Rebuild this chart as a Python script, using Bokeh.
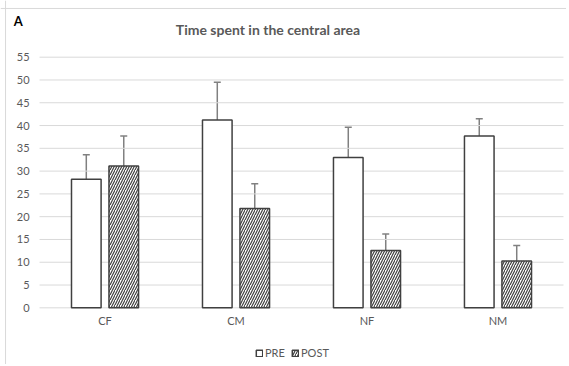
from bokeh.plotting import figure
from bokeh.models import (ColumnDataSource, Range1d, Whisker, TeeHead, Span,
                          Legend, LegendItem, Label, FixedTicker)
from bokeh.embed import file_html
from bokeh.resources import INLINE

categories = ["CF", "CM", "NF", "NM"]
pre = [28.2, 41.2, 33.0, 37.7]
pre_hi = [33.6, 49.5, 39.6, 41.5]
pre_lo = [27.2, 40.3, 32.1, 36.7]
post = [31.1, 21.8, 12.6, 10.3]
post_hi = [37.7, 27.2, 16.2, 13.7]
post_lo = [30.2, 21.0, 11.9, 9.3]
y_ticks = list(range(0, 56, 5))

FONT = "Lato"
GREY = "#595959"
EDGE = "#404040"
ERR = "#808080"
GRID = "#d9d9d9"
OFF = 0.143
W = 0.226

idx = list(range(len(categories)))
src = ColumnDataSource(dict(
    x_pre=[i - OFF for i in idx], x_post=[i + OFF for i in idx],
    pre=pre, pre_hi=pre_hi, pre_lo=pre_lo,
    post=post, post_hi=post_hi, post_lo=post_lo))

p = figure(width=566, height=364,
           x_range=Range1d(-0.798, 3.523), y_range=Range1d(-12.44, 67.44),
           output_backend="svg", toolbar_location=None,
           min_border_left=0, min_border_right=0, min_border_top=0, min_border_bottom=0)
p.outline_line_color = None

# chart border (faint)
p.add_layout(Span(location=-0.7595, dimension="height", line_color=GRID, line_width=1))
p.add_layout(Span(location=65.69, dimension="width", line_color=GRID, line_width=1))

# horizontal gridlines across the category extent only
n = len(categories)
p.segment(x0=[-0.5] * len(y_ticks), x1=[n - 0.5] * len(y_ticks), y0=y_ticks, y1=y_ticks,
          line_color=GRID, line_width=1)

r_pre = p.vbar(x="x_pre", top="pre", width=W, source=src,
               fill_color="white", line_color=EDGE, line_width=1.5)
r_post = p.vbar(x="x_post", top="post", width=W, source=src,
                fill_color="white", line_color=EDGE, line_width=1.5,
                hatch_pattern="right_diagonal_line", hatch_color=EDGE,
                hatch_scale=5, hatch_weight=1.2)

for xf, hi, lo in [("x_pre", "pre_hi", "pre_lo"), ("x_post", "post_hi", "post_lo")]:
    w = Whisker(source=src, base=xf, upper=hi, lower=lo,
                line_color=ERR, line_width=1.5,
                upper_head=TeeHead(size=7, line_color=ERR, line_width=1.5),
                lower_head=TeeHead(size=7, line_color=ERR, line_width=1.5))
    p.add_layout(w)

p.xaxis.ticker = FixedTicker(ticks=idx)
p.xaxis.major_label_overrides = {i: c for i, c in zip(idx, categories)}
p.xaxis.fixed_location = 0
p.yaxis.ticker = FixedTicker(ticks=y_ticks)
p.yaxis.fixed_location = -0.5
for ax in (p.xaxis, p.yaxis):
    ax.axis_line_color = None
    ax.major_tick_line_color = None
    ax.minor_tick_line_color = None
    ax.major_tick_in = 0
    ax.major_tick_out = 0
    ax.major_label_text_font = FONT
    ax.major_label_text_font_size = "11px"
    ax.major_label_text_color = GREY
p.yaxis.major_label_standoff = 10
p.xaxis.major_label_standoff = 6

p.xgrid.grid_line_color = None
p.ygrid.grid_line_color = None

p.add_layout(Label(x=1.244, y=61.1, text="Time spent in the central area",
                   text_align="center", text_baseline="alphabetic",
                   text_font=FONT, text_font_size="14px", text_font_style="bold",
                   text_color=GREY))
p.add_layout(Label(x=-0.696, y=62.9, text="A", text_align="left",
                   text_baseline="alphabetic",
                   text_font=FONT, text_font_size="13px", text_font_style="bold",
                   text_color="black"))

legend = Legend(items=[LegendItem(label="PRE", renderers=[r_pre]),
                       LegendItem(label="POST", renderers=[r_post])],
                orientation="horizontal", location=(255, 5),
                border_line_color=None, background_fill_alpha=0,
                glyph_width=8, glyph_height=8, label_standoff=2, spacing=6,
                padding=2, margin=0, label_text_font=FONT,
                label_text_font_size="11px", label_text_color=GREY,
                label_height=12)
p.add_layout(legend, "center")

open("out.html", "w").write(file_html(p, INLINE))
